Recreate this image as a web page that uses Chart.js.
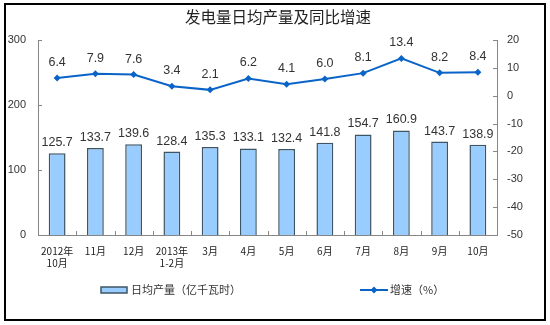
<!DOCTYPE html>
<html lang="zh">
<head>
<meta charset="UTF-8">
<title>发电量日均产量及同比增速</title>
<style>
  html, body { margin: 0; padding: 0; background: #fff; }
  #wrap { width: 550px; height: 325px; position: relative; }
</style>
</head>
<body>
<div id="wrap"><canvas id="chart" width="550" height="325"></canvas></div>
<script src="https://cdn.jsdelivr.net/npm/chart.js"></script>
<script>
const months = [['2012年', '10月'], '11月', '12月', ['2013年', '1-2月'], '3月', '4月', '5月', '6月', '7月', '8月', '9月', '10月'];
const dailyOutput = [125.7, 133.7, 139.6, 128.4, 135.3, 133.1, 132.4, 141.8, 154.7, 160.9, 143.7, 138.9];
const growthRate = [6.4, 7.9, 7.6, 3.4, 2.1, 6.2, 4.1, 6.0, 8.1, 13.4, 8.2, 8.4];
const leftTicks = [0, 100, 200, 300];
const rightTicks = [-50, -40, -30, -20, -10, 0, 10, 20];

const FONT = '"Noto Sans CJK SC", "Liberation Sans", sans-serif';
const NUM_FONT = '"Liberation Sans", Arial, sans-serif';
const AXIS = '#868686';
const TEXT = '#333333';

// frame, title, inside tick marks, value labels, legend
const decor = {
  id: 'decor',
  beforeDraw(chart) {
    const c = chart.ctx;
    c.save();
    c.fillStyle = '#fff';
    c.fillRect(0, 0, chart.width, chart.height);
    c.restore();
  },
  afterDatasetsDraw(chart) {
    const c = chart.ctx;
    const area = chart.chartArea;
    const x = chart.scales.x, y = chart.scales.y, y1 = chart.scales.y1;
    c.save();

    // outer frame
    c.strokeStyle = '#000';
    c.lineWidth = 2;
    c.strokeRect(5, 4, 540, 316);

    // title
    c.fillStyle = '#222';
    c.font = '15.5px ' + FONT;
    c.textAlign = 'center';
    c.textBaseline = 'middle';
    c.fillText('发电量日均产量及同比增速', 278, 17);

    // tick marks pointing into the plot
    c.strokeStyle = AXIS;
    c.lineWidth = 1;
    c.beginPath();
    leftTicks.forEach(v => {
      const py = Math.round(y.getPixelForValue(v)) + 0.5;
      c.moveTo(area.left, py); c.lineTo(area.left + 4, py);
    });
    rightTicks.forEach(v => {
      const py = Math.round(y1.getPixelForValue(v)) + 0.5;
      c.moveTo(area.right, py); c.lineTo(area.right - 4, py);
    });
    for (let i = 1; i < months.length; i++) {
      const px = Math.round((x.getPixelForValue(i - 1) + x.getPixelForValue(i)) / 2) + 0.5;
      c.moveTo(px, area.bottom); c.lineTo(px, area.bottom - 4);
    }
    c.stroke();

    // value labels
    c.fillStyle = TEXT;
    c.font = '12.5px ' + NUM_FONT;
    c.textAlign = 'center';
    c.textBaseline = 'alphabetic';
    chart.getDatasetMeta(0).data.forEach((bar, i) => {
      c.fillText(dailyOutput[i].toFixed(1), bar.x, bar.y - 7);
    });
    chart.getDatasetMeta(1).data.forEach((pt, i) => {
      c.fillText(growthRate[i].toFixed(1), pt.x, pt.y - 12);
    });

    // legend
    c.fillStyle = '#99CCFF';
    c.strokeStyle = '#3E5565';
    c.lineWidth = 1.5;
    c.fillRect(101, 287, 26, 6);
    c.strokeRect(101, 287, 26, 6);
    c.fillStyle = TEXT;
    c.font = '11px ' + FONT;
    c.textAlign = 'left';
    c.textBaseline = 'middle';
    c.fillText('日均产量（亿千瓦时）', 131, 290);

    c.strokeStyle = '#0A64C8';
    c.lineWidth = 2;
    c.beginPath();
    c.moveTo(360, 290); c.lineTo(388, 290);
    c.stroke();
    c.fillStyle = '#0A64C8';
    c.beginPath();
    c.moveTo(374, 286.5); c.lineTo(377.5, 290); c.lineTo(374, 293.5); c.lineTo(370.5, 290);
    c.closePath();
    c.fill();
    c.fillStyle = TEXT;
    c.fillText('增速（%）', 390, 290);

    c.restore();
  }
};

new Chart(document.getElementById('chart'), {
  data: {
    labels: months,
    datasets: [
      {
        type: 'bar',
        label: '日均产量（亿千瓦时）',
        data: dailyOutput,
        yAxisID: 'y',
        backgroundColor: '#99CCFF',
        borderColor: '#3E5565',
        borderWidth: 1.5,
        categoryPercentage: 1,
        barPercentage: 0.44,
        order: 2
      },
      {
        type: 'line',
        label: '增速（%）',
        data: growthRate,
        yAxisID: 'y1',
        borderColor: '#0A64C8',
        backgroundColor: '#0A64C8',
        borderWidth: 2,
        pointStyle: 'rectRot',
        pointRadius: 3.5,
        pointBorderWidth: 0,
        tension: 0,
        order: 1
      }
    ]
  },
  options: {
    responsive: false,
    animation: false,
    layout: { padding: { left: 6, right: 12, top: 40, bottom: 0 } },
    plugins: {
      legend: { display: false },
      title: { display: false },
      tooltip: { enabled: false }
    },
    scales: {
      x: {
        offset: true,
        grid: { display: false },
        border: { color: AXIS, width: 1 },
        ticks: {
          color: '#222',
          font: { family: FONT, size: 10 },
          maxRotation: 0,
          autoSkip: false,
          padding: 2
        },
        afterFit(scale) { scale.height = 90; }
      },
      y: {
        position: 'left',
        min: 0,
        max: 300,
        afterBuildTicks(scale) { scale.ticks = leftTicks.map(v => ({ value: v })); },
        grid: { display: false },
        border: { color: AXIS, width: 1 },
        ticks: { color: TEXT, font: { family: NUM_FONT, size: 11 }, padding: 4 },
        afterFit(scale) { scale.width = 32; }
      },
      y1: {
        position: 'right',
        min: -50,
        max: 20,
        afterBuildTicks(scale) { scale.ticks = rightTicks.map(v => ({ value: v })); },
        grid: { display: false },
        border: { color: AXIS, width: 1 },
        ticks: { color: TEXT, font: { family: NUM_FONT, size: 11 }, padding: 2 },
        afterFit(scale) { scale.width = 41; }
      }
    }
  },
  plugins: [decor]
});
</script>
</body>
</html>
